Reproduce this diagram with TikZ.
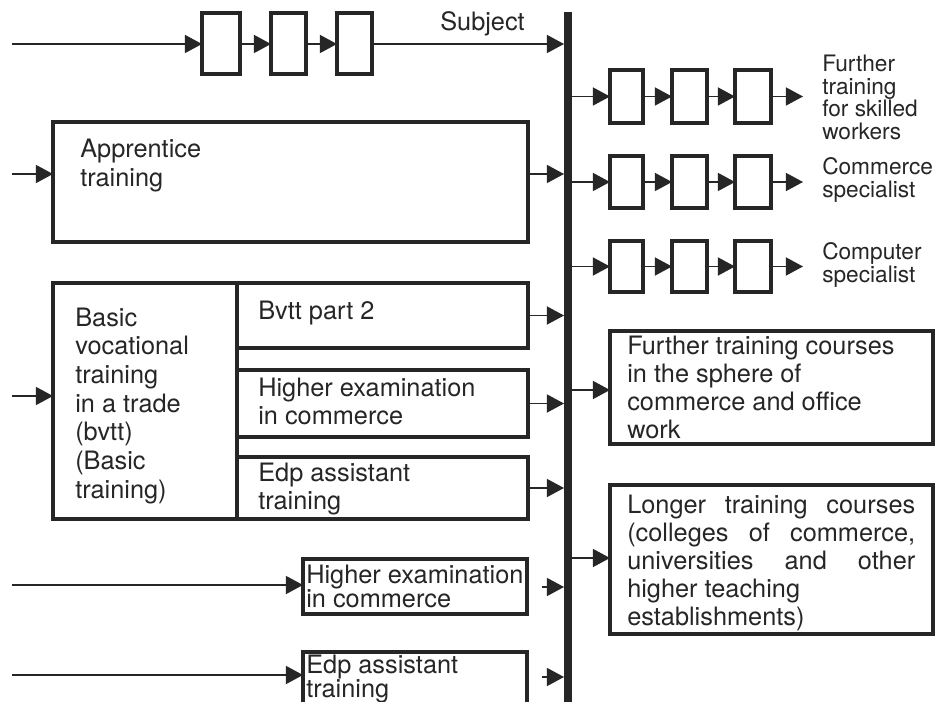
\documentclass[tikz,border=0pt]{standalone}
\usepackage{fontspec}
\setmainfont{TeX Gyre Heros}
\usetikzlibrary{arrows.meta,calc}
\newcommand\pxbox[6]{\node[bx, minimum width={(#4-#2)*0.75pt}, minimum height={(#5-#3)*0.75pt}] (#1) at ({(#2+#4)/2},{(#3+#5)/2}) {#6};}
\newcommand\Lines[1]{\vtop{\halign{##\hfil\cr#1\crcr}}}
\tikzset{
  bx/.style={draw=black!85, line width=2.3pt, inner sep=0pt, outer sep=0pt},
  conn/.style={draw=black!85, line width=1.1pt},
  arr/.style={conn, -{Triangle[length=12.8pt,width=13.5pt]}},
  barline/.style={draw=black!85, line width=5.8pt},
  txt/.style={anchor=base west, inner sep=0pt, text=black!85,
    font=\fontsize{19}{21.5}\selectfont},
  tight/.style={txt, font=\fontsize{19}{17.5}\selectfont},
  small/.style={txt, font=\fontsize{17}{16.8}\selectfont},
}
\begin{document}
\begin{tikzpicture}[x=0.75pt,y=-0.75pt]
\clip (0,0) rectangle (946,702);
\fill[white] (0,0) rectangle (946,702);
% bar
\coordinate (bartop) at (568,12);
\coordinate (barbot) at (568,702);
\draw[barline] (bartop) -- (barbot);
\coordinate (barL) at (564,0);
\coordinate (barR) at (571,0);
% top row
\coordinate (in1) at (12,44);
\pxbox{t1}{202}{13}{240}{74}{}
\pxbox{t2}{271}{13}{306}{74}{}
\pxbox{t3}{337}{13}{372}{74}{}
\draw[arr] (in1) -- (in1 -| t1.west);
\draw[arr] (in1 -| t1.east) -- (in1 -| t2.west);
\draw[arr] (in1 -| t2.east) -- (in1 -| t3.west);
\draw[arr] (in1 -| t3.east) -- (in1 -| barL);
\node[txt] (subj) at (440,31) {Subject};
% apprentice
\pxbox{appr}{53}{122}{528}{242}{}
\node[txt] (apprT) at (80,158) {\Lines{Apprentice\cr training}};
\coordinate (inA) at (12,174);
\draw[arr] (inA) -- (inA -| appr.west);
\draw[arr] (inA -| appr.east) -- (inA -| barL);
% right rows
\foreach \r/\ya/\yb in {1/70/123, 2/156/208, 3/241/292}{
  \pxbox{r\r a}{610}{\ya}{643}{\yb}{}
  \pxbox{r\r b}{672}{\ya}{707}{\yb}{}
  \pxbox{r\r c}{735}{\ya}{771}{\yb}{}
  \coordinate (e\r) at ({803},{(\ya+\yb)/2});
  \draw[arr] (r\r a.west -| barR) -- (r\r a.west);
  \draw[arr] (r\r a.east) -- (r\r b.west);
  \draw[arr] (r\r b.east) -- (r\r c.west);
  \draw[arr] (r\r c.east) -- (e\r);
}
\node[small] (l1) at (822,72) {\Lines{Further\cr training\cr for skilled\cr workers}};
\node[small] (l2) at (822,175) {\Lines{Commerce\cr specialist}};
\node[small] (l3) at (822,260) {\Lines{Computer\cr specialist}};
% basic vocational training
\pxbox{bvtt}{53}{283}{237}{519}{}
\node[txt] (bvttT) at (75,326) {\Lines{Basic\cr vocational\cr training\cr in a trade\cr (bvtt)\cr (Basic\cr training)}};
\pxbox{b2}{237}{283}{528}{348}{}
\pxbox{hx}{237}{370}{528}{437}{}
\pxbox{edp}{237}{457}{528}{519}{}
\node[txt] (b2T) at (258,320) {Bvtt part 2};
\node[txt] (hxT) at (258,396) {\Lines{Higher examination\cr in commerce}};
\node[txt] (edpT) at (258,481) {\Lines{Edp assistant\cr training}};
\coordinate (inB) at (12,396);
\draw[arr] (inB) -- (inB -| bvtt.west);
\draw[arr] (b2.east) -- (b2.east -| barL);
\draw[arr] (hx.east) -- (hx.east -| barL);
\draw[arr] (edp.east) -- (edp.east -| barL);
% bottom rows
\pxbox{hx2}{303}{559}{527}{614}{}
\node[tight] (hx2T) at (306,583) {\Lines{Higher examination\cr in commerce}};
\coordinate (inC) at (12,585);
\draw[arr] (inC) -- (inC -| hx2.west);
\coordinate (sC) at (542,587);
\draw[arr] (sC) -- (sC -| barL);
\pxbox{edp2}{303}{652}{527}{720}{}
\node[tight] (edp2T) at (306,673) {\Lines{Edp assistant\cr training}};
\coordinate (inD) at (12,675);
\draw[arr] (inD) -- (inD -| edp2.west);
\coordinate (sD) at (542,677);
\draw[arr] (sD) -- (sD -| barL);
% right boxes
\pxbox{ftc}{610}{331}{933}{444}{}
\node[txt, font=\fontsize{19}{21}\selectfont] (ftcT) at (627,354) {\Lines{Further training courses\cr in the sphere of\cr commerce and office\cr work}};
\coordinate (aF) at (571,390);
\draw[arr] (aF) -- (aF -| ftc.west);
\pxbox{ltc}{610}{485}{933}{634}{}
\node[txt, font=\fontsize{19}{21}\selectfont] (ltcT) at (627,513) {\Lines{\makebox[216pt][s]{Longer training courses}\cr \makebox[216pt][s]{(colleges of commerce,}\cr \makebox[216pt][s]{universities and other}\cr higher teaching\cr establishments)}};
\coordinate (aL) at (571,558);
\draw[arr] (aL) -- (aL -| ltc.west);
\end{tikzpicture}
\end{document}
